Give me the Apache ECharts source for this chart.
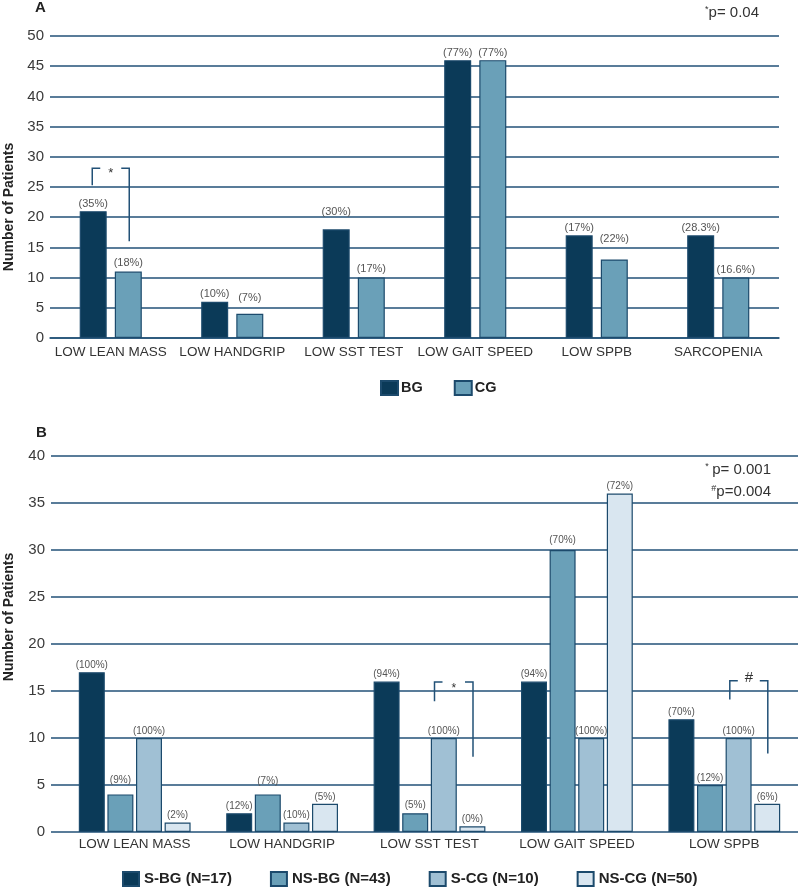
<!DOCTYPE html>
<html><head><meta charset="utf-8">
<script src="https://cdn.jsdelivr.net/npm/echarts@6/dist/echarts.min.js"></script>
<style>html,body{margin:0;padding:0;background:#fff}#c{width:798px;height:888px}</style>
</head><body><div id="c"></div>
<script>
// ---------- Panel A data ----------
const categoriesA = ['LOW LEAN MASS', 'LOW HANDGRIP', 'LOW SST TEST', 'LOW GAIT SPEED', 'LOW SPPB', 'SARCOPENIA'];
const valuesBG = [21, 6, 18, 46, 17, 17];
const valuesCG = [11, 4, 10, 46, 13, 10];
const pctBG = ['(35%)', '(10%)', '(30%)', '(77%)', '(17%)', '(28.3%)'];
const pctCG = ['(18%)', '(7%)', '(17%)', '(77%)', '(22%)', '(16.6%)'];
const yTicksA = [0, 5, 10, 15, 20, 25, 30, 35, 40, 45, 50];

// ---------- Panel B data ----------
const categoriesB = ['LOW LEAN MASS', 'LOW HANDGRIP', 'LOW SST TEST', 'LOW GAIT SPEED', 'LOW SPPB'];
const valuesSBG = [17, 2, 16, 16, 12];
const valuesNSBG = [4, 4, 2, 30, 5];
const valuesSCG = [10, 1, 10, 10, 10];
const valuesNSCG = [1, 3, 0.6, 36, 3];
const pctSBG = ['(100%)', '(12%)', '(94%)', '(94%)', '(70%)'];
const pctNSBG = ['(9%)', '(7%)', '(5%)', '(70%)', '(12%)'];
const pctSCG = ['(100%)', '(10%)', '(100%)', '(100%)', '(100%)'];
const pctNSCG = ['(2%)', '(5%)', '(0%)', '(72%)', '(6%)'];
const yTicksB = [0, 5, 10, 15, 20, 25, 30, 35, 40];

// ---------- styling ----------
const FONT = '"Liberation Sans", Arial, sans-serif';
const LINE = '#225177';
const BORDER = '#1c4a6c';
const C_BG = '#0b3a58', C_CG = '#6aa0b8', C_SCG = '#a0c0d4', C_NSCG = '#d9e6f0';
// extra label lift (px) per bar, purely cosmetic
const liftBG = [0, 0, 10, 0, 0, 0];
const liftCG = [1, 8, 1, 0, 13, 0];
const liftNSBG = [7, 6, 1, 3, 0];
const liftZero5 = [0, 0, 0, 0, 0];

function barData(vals, pcts, lift) {
  return vals.map((v, i) => ({
    value: v,
    label: { distance: 2 + lift[i], formatter: pcts[i] }
  }));
}
function barSeries(name, vals, pcts, lift, color, xi, yi, bw, gap, fs) {
  return {
    name, type: 'bar', xAxisIndex: xi, yAxisIndex: yi,
    barWidth: bw, barGap: gap,
    itemStyle: { color, borderColor: BORDER, borderWidth: 1.2 },
    label: { show: true, position: 'top', fontFamily: FONT, fontSize: fs, color: '#555' },
    data: barData(vals, pcts, lift),
    animation: false
  };
}
const yLabel = { fontFamily: FONT, fontSize: 15, color: '#3a3a3a', margin: 6 };
const split = { show: true, lineStyle: { color: LINE, width: 1.5 } };

const chart = echarts.init(document.getElementById('c'), null, { renderer: 'canvas' });
const option = {
  backgroundColor: '#fff',
  animation: false,
  grid: [
    { left: 50, top: 36, width: 729, height: 302 },
    { left: 51, top: 456, width: 747, height: 376 },
    { left: 61, top: 456, width: 747, height: 376 }
  ],
  xAxis: [
    { type: 'category', gridIndex: 0, data: categoriesA,
      axisLine: { show: true, lineStyle: { color: LINE, width: 1.5 } }, axisTick: { show: false },
      axisLabel: { fontFamily: FONT, fontSize: 13.5, color: '#333', margin: 7, interval: 0 } },
    { type: 'value', gridIndex: 1, show: false, min: 0, max: 1 },
    { type: 'category', gridIndex: 2, data: categoriesB,
      axisLine: { show: false }, axisTick: { show: false },
      axisLabel: { fontFamily: FONT, fontSize: 13.5, color: '#333', margin: 5, interval: 0 } }
  ],
  yAxis: [
    { type: 'value', gridIndex: 0, min: yTicksA[0], max: yTicksA[yTicksA.length - 1], interval: yTicksA[1] - yTicksA[0],
      axisLine: { show: false }, axisTick: { show: false }, axisLabel: yLabel, splitLine: split },
    { type: 'value', gridIndex: 1, min: yTicksB[0], max: yTicksB[yTicksB.length - 1], interval: yTicksB[1] - yTicksB[0],
      axisLine: { show: false }, axisTick: { show: false }, axisLabel: yLabel, splitLine: split },
    { type: 'value', gridIndex: 2, min: yTicksB[0], max: yTicksB[yTicksB.length - 1], interval: yTicksB[1] - yTicksB[0],
      show: false, splitLine: { show: false } }
  ],
  legend: [
    { data: ['BG', 'CG'], left: 380, top: 380, padding: 0, icon: 'rect', itemWidth: 17, itemHeight: 14, itemGap: 31,
      textStyle: { fontFamily: FONT, fontWeight: 'bold', fontSize: 14.5, color: '#222', padding: [0, 0, 0, -2] } },
    { data: ['S-BG (N=17)', 'NS-BG (N=43)', 'S-CG (N=10)', 'NS-CG (N=50)'], left: 122, top: 871, padding: 0, icon: 'rect',
      itemWidth: 16, itemHeight: 14, itemGap: 38,
      textStyle: { fontFamily: FONT, fontWeight: 'bold', fontSize: 15, color: '#222' } }
  ],
  series: [
    barSeries('BG', valuesBG, pctBG, liftBG, C_BG, 0, 0, 27, '30%', 11),
    barSeries('CG', valuesCG, pctCG, liftCG, C_CG, 0, 0, 27, '30%', 11),
    barSeries('S-BG (N=17)', valuesSBG, pctSBG, liftZero5, C_BG, 2, 2, 26, '10%', 10),
    barSeries('NS-BG (N=43)', valuesNSBG, pctNSBG, liftNSBG, C_CG, 2, 2, 26, '10%', 10),
    barSeries('S-CG (N=10)', valuesSCG, pctSCG, liftZero5, C_SCG, 2, 2, 26, '10%', 10),
    barSeries('NS-CG (N=50)', valuesNSCG, pctNSCG, liftZero5, C_NSCG, 2, 2, 26, '10%', 10)
  ]
};
chart.setOption(option);

// ---------- annotations (brackets computed from the axes) ----------
function bracket(xi, yi, cat, dxL, dxR, yTop, yLB, yRB, arm) {
  const pT = chart.convertToPixel({ xAxisIndex: xi, yAxisIndex: yi }, [cat, yTop]);
  const yl = chart.convertToPixel({ yAxisIndex: yi }, yLB);
  const yr = chart.convertToPixel({ yAxisIndex: yi }, yRB);
  const xl = pT[0] + dxL, xr = pT[0] + dxR, yt = pT[1];
  const st = { stroke: LINE, lineWidth: 1.5, fill: null };
  return {
    els: [
      { type: 'polyline', shape: { points: [[xl, yl], [xl, yt], [xl + arm, yt]] }, style: st, z: 10 },
      { type: 'polyline', shape: { points: [[xr - arm, yt], [xr, yt], [xr, yr]] }, style: st, z: 10 }
    ],
    mid: [(xl + xr) / 2, yt]
  };
}
const g = [];
const bA = bracket(0, 0, categoriesA[0], -18.5, 18.5, 28.1, 25.3, 16, 8);
g.push(...bA.els);
g.push({ type: 'text', x: bA.mid[0], y: bA.mid[1] + 5, style: { text: '*', fontFamily: FONT, fontSize: 13, fill: '#333', align: 'center', verticalAlign: 'middle' }, z: 10 });
const bB1 = bracket(2, 2, categoriesB[2], 5, 43.5, 15.95, 13.9, 8.0, 8);
g.push(...bB1.els);
g.push({ type: 'text', x: bB1.mid[0], y: bB1.mid[1] + 7, style: { text: '*', fontFamily: FONT, fontSize: 12, fill: '#333', align: 'center', verticalAlign: 'middle' }, z: 10 });
const bB2 = bracket(2, 2, categoriesB[4], 5.5, 43.5, 16.08, 14.1, 8.35, 8);
g.push(...bB2.els);
g.push({ type: 'text', x: bB2.mid[0], y: bB2.mid[1] - 3, style: { text: '#', fontFamily: FONT, fontSize: 15, fill: '#333', align: 'center', verticalAlign: 'middle' }, z: 10 });

// panel letters, axis titles, p-values
g.push({ type: 'text', x: 35, y: 8, style: { text: 'A', fontFamily: FONT, fontWeight: 'bold', fontSize: 15, fill: '#222', verticalAlign: 'middle' } });
g.push({ type: 'text', x: 36, y: 433, style: { text: 'B', fontFamily: FONT, fontWeight: 'bold', fontSize: 15, fill: '#222', verticalAlign: 'middle' } });
g.push({ type: 'text', x: 9, y: 207, rotation: Math.PI / 2, style: { text: 'Number of Patients', fontFamily: FONT, fontWeight: 'bold', fontSize: 14, fill: '#222', align: 'center', verticalAlign: 'middle' } });
g.push({ type: 'text', x: 9, y: 617, rotation: Math.PI / 2, style: { text: 'Number of Patients', fontFamily: FONT, fontWeight: 'bold', fontSize: 14, fill: '#222', align: 'center', verticalAlign: 'middle' } });
const sup = { fontFamily: FONT, fontSize: 9, fill: '#333', verticalAlign: 'top', padding: [0, 0, 6, 0] };
const pv = { fontFamily: FONT, fontSize: 15, fill: '#333' };
g.push({ type: 'text', x: 759, y: 13, style: { text: '{s|*}{t|p= 0.04}', rich: { s: sup, t: pv }, align: 'right', verticalAlign: 'middle' } });
g.push({ type: 'text', x: 771, y: 470, style: { text: '{s|*} {t|p= 0.001}', rich: { s: sup, t: pv }, align: 'right', verticalAlign: 'middle' } });
g.push({ type: 'text', x: 771, y: 492, style: { text: '{s|#}{t|p=0.004}', rich: { s: sup, t: pv }, align: 'right', verticalAlign: 'middle' } });
chart.setOption({ graphic: g });
</script>
</body></html>
